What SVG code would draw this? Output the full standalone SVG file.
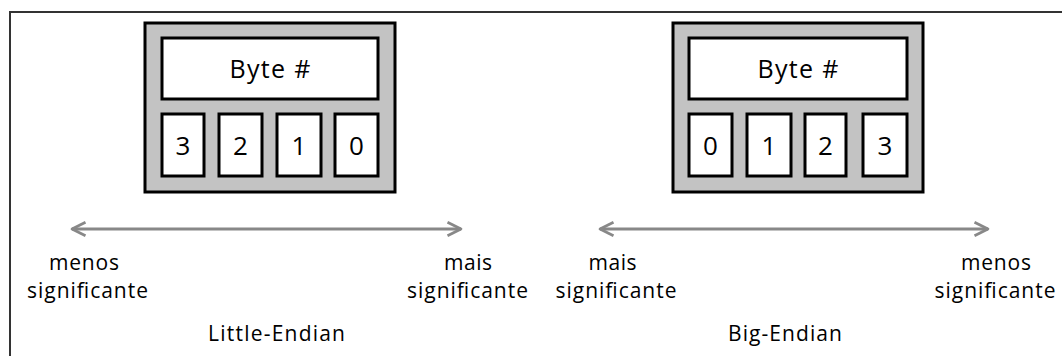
<svg xmlns="http://www.w3.org/2000/svg" width="1062" height="356" viewBox="0 0 1062 356">
  <style>
    .frame { fill: none; stroke: #333; stroke-width: 2; }
    .outer { fill: #c3c3c3; stroke: #000; stroke-width: 3; }
    .cell { fill: #fff; stroke: #000; stroke-width: 3; }
    .t { font-family: "Open Sans", "Noto Sans", "Liberation Sans", sans-serif; fill: #000; text-anchor: middle; }
    .big { font-size: 25px; }
    .dig { font-size: 26px; }
    .lbl { font-size: 21px; }
    .arrow { stroke: #888; stroke-width: 3; fill: none; }
  </style>
  <defs>
    <marker id="head" viewBox="0 0 12 12" refX="10" refY="6" markerWidth="6" markerHeight="6" orient="auto-start-reverse" markerUnits="strokeWidth">
      <path d="M1,1.5 L10,6 L1,10.5" fill="none" stroke="#888" stroke-width="1.8" stroke-linejoin="round"/>
    </marker>
  </defs>
  <rect width="1062" height="356" fill="#fff"/>
  <rect class="frame" x="10" y="12" width="1070" height="360"/>

  <!-- Little-endian word -->
  <g id="little-endian">
    <rect class="outer" x="145" y="23" width="250" height="169"/>
    <rect class="cell" x="162" y="38" width="216" height="61"/>
    <text class="t big" x="270" y="78" textLength="81" lengthAdjust="spacing">Byte #</text>
    <rect class="cell" x="162" y="114" width="42" height="62"/>
    <rect class="cell" x="219" y="114" width="43" height="62"/>
    <rect class="cell" x="277" y="114" width="44" height="62"/>
    <rect class="cell" x="335" y="114" width="43" height="62"/>
    <text class="t dig" x="183" y="155">3</text>
    <text class="t dig" x="240.5" y="155">2</text>
    <text class="t dig" x="299" y="155">1</text>
    <text class="t dig" x="356.5" y="155">0</text>
  </g>

  <!-- Big-endian word -->
  <g id="big-endian">
    <rect class="outer" x="673" y="23" width="250" height="169"/>
    <rect class="cell" x="689" y="38" width="218" height="61"/>
    <text class="t big" x="798" y="78" textLength="81" lengthAdjust="spacing">Byte #</text>
    <rect class="cell" x="689" y="114" width="43" height="62"/>
    <rect class="cell" x="747" y="114" width="44" height="62"/>
    <rect class="cell" x="805" y="114" width="41" height="62"/>
    <rect class="cell" x="863" y="114" width="44" height="62"/>
    <text class="t dig" x="710.5" y="155">0</text>
    <text class="t dig" x="769" y="155">1</text>
    <text class="t dig" x="825.5" y="155">2</text>
    <text class="t dig" x="885" y="155">3</text>
  </g>

  <!-- significance axes -->
  <g id="connectors">
    <line class="arrow" x1="72" y1="229" x2="461" y2="229" marker-start="url(#head)" marker-end="url(#head)"/>
    <line class="arrow" x1="600" y1="229" x2="988" y2="229" marker-start="url(#head)" marker-end="url(#head)"/>
  </g>

  <g id="labels-little">
    <text class="t lbl" x="84" y="270" textLength="70" lengthAdjust="spacing">menos</text>
    <text class="t lbl" x="87.5" y="298" textLength="121" lengthAdjust="spacing">significante</text>
    <text class="t lbl" x="468" y="270" textLength="48" lengthAdjust="spacing">mais</text>
    <text class="t lbl" x="467.5" y="298" textLength="121" lengthAdjust="spacing">significante</text>
    <text class="t lbl" x="276.5" y="341" textLength="137" lengthAdjust="spacing">Little-Endian</text>
  </g>
  <g id="labels-big">
    <text class="t lbl" x="612.5" y="270" textLength="48" lengthAdjust="spacing">mais</text>
    <text class="t lbl" x="616" y="298" textLength="121" lengthAdjust="spacing">significante</text>
    <text class="t lbl" x="996" y="270" textLength="70" lengthAdjust="spacing">menos</text>
    <text class="t lbl" x="995" y="298" textLength="121" lengthAdjust="spacing">significante</text>
    <text class="t lbl" x="785" y="341" textLength="114" lengthAdjust="spacing">Big-Endian</text>
  </g>
</svg>
